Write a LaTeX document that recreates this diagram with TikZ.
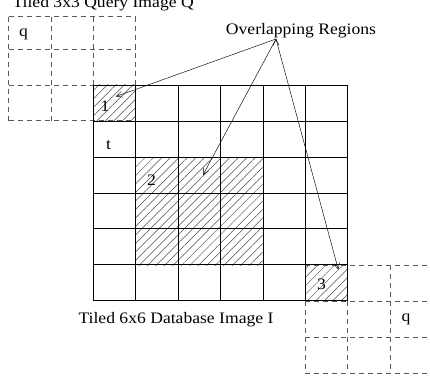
\documentclass[tikz,border=0pt]{standalone}
\usepackage{fontspec}
\setmainfont{Liberation Serif}[FakeStretch=1.1]
\usepackage{tikz}
\usetikzlibrary{arrows.meta,patterns.meta}

\begin{document}
\begin{tikzpicture}[x=1pt,y=-1pt,font=\fontsize{16}{19}\selectfont,
    qline/.style={draw=black!65, dash pattern=on 5pt off 4pt, line width=0.7pt},
    dbline/.style={draw=black, line width=0.7pt},
    overlap/.style={pattern={Lines[angle=45,distance=6pt,line width=0.5pt]}, pattern color=black!70},
    arr/.style={-{Straight Barb[length=6pt,width=6pt]}, line width=0.45pt}]
    \useasboundingbox (0,0) rectangle (430,379);
    % hatched overlaps
        \fill [overlap] (93.3,85) rectangle (135.7,121);
        \fill [overlap] (135.7,157.3) rectangle (262.7,265);
        \fill [overlap] (305.3,265) rectangle (347.7,300.7);
    % query tiles (dashed)
        \foreach \x in {8.5,50.9,93.3,135.7} \draw [qline] (\x,16.7) -- (\x,120.7);
        \foreach \y in {16.7,49,85,120.7} \draw [qline] (8.5,\y) -- (135.7,\y);
        \foreach \x in {305.3,347.7,390.1,432.5} \draw [qline] (\x,265) -- (\x,373);
        \foreach \y in {265,301,337,373} \draw [qline] (305.3,\y) -- (432.5,\y);
    % database tiles
        \foreach \i in {0,...,6} {
            \draw [dbline] (93.3+42.4*\i,85) -- (93.3+42.4*\i,300.7);
            \draw [dbline] (93.3,85+35.95*\i) -- (347.7,85+35.95*\i);
        }
    % labels
        \node [anchor=base west] (qtitle) at (9,7.3) {Tiled 3x3 Query Image Q};
        \node [anchor=base] (regions) at (301,35) {Overlapping Regions};
        \node [anchor=base] (dbtitle) at (176,323.3) {Tiled 6x6 Database Image I};
        \node (q1) at (23.5,34.5) {q};
        \node (q2) at (406,319.5) {q};
        \node (t) at (108.5,145) {t};
        \node (r1) at (105,106) {1};
        \node (r2) at (151.5,180) {2};
        \node (r3) at (321.5,284) {3};
        \coordinate (src) at (276,39);
        \coordinate (tip1) at (116,96.5);
        \coordinate (tip2) at (203,175);
        \coordinate (tip3) at (338.3,269.5);
    \draw [arr]
        (src) edge (tip1)
        (src) edge (tip2)
        (src) edge (tip3);
\end{tikzpicture}
\end{document}
